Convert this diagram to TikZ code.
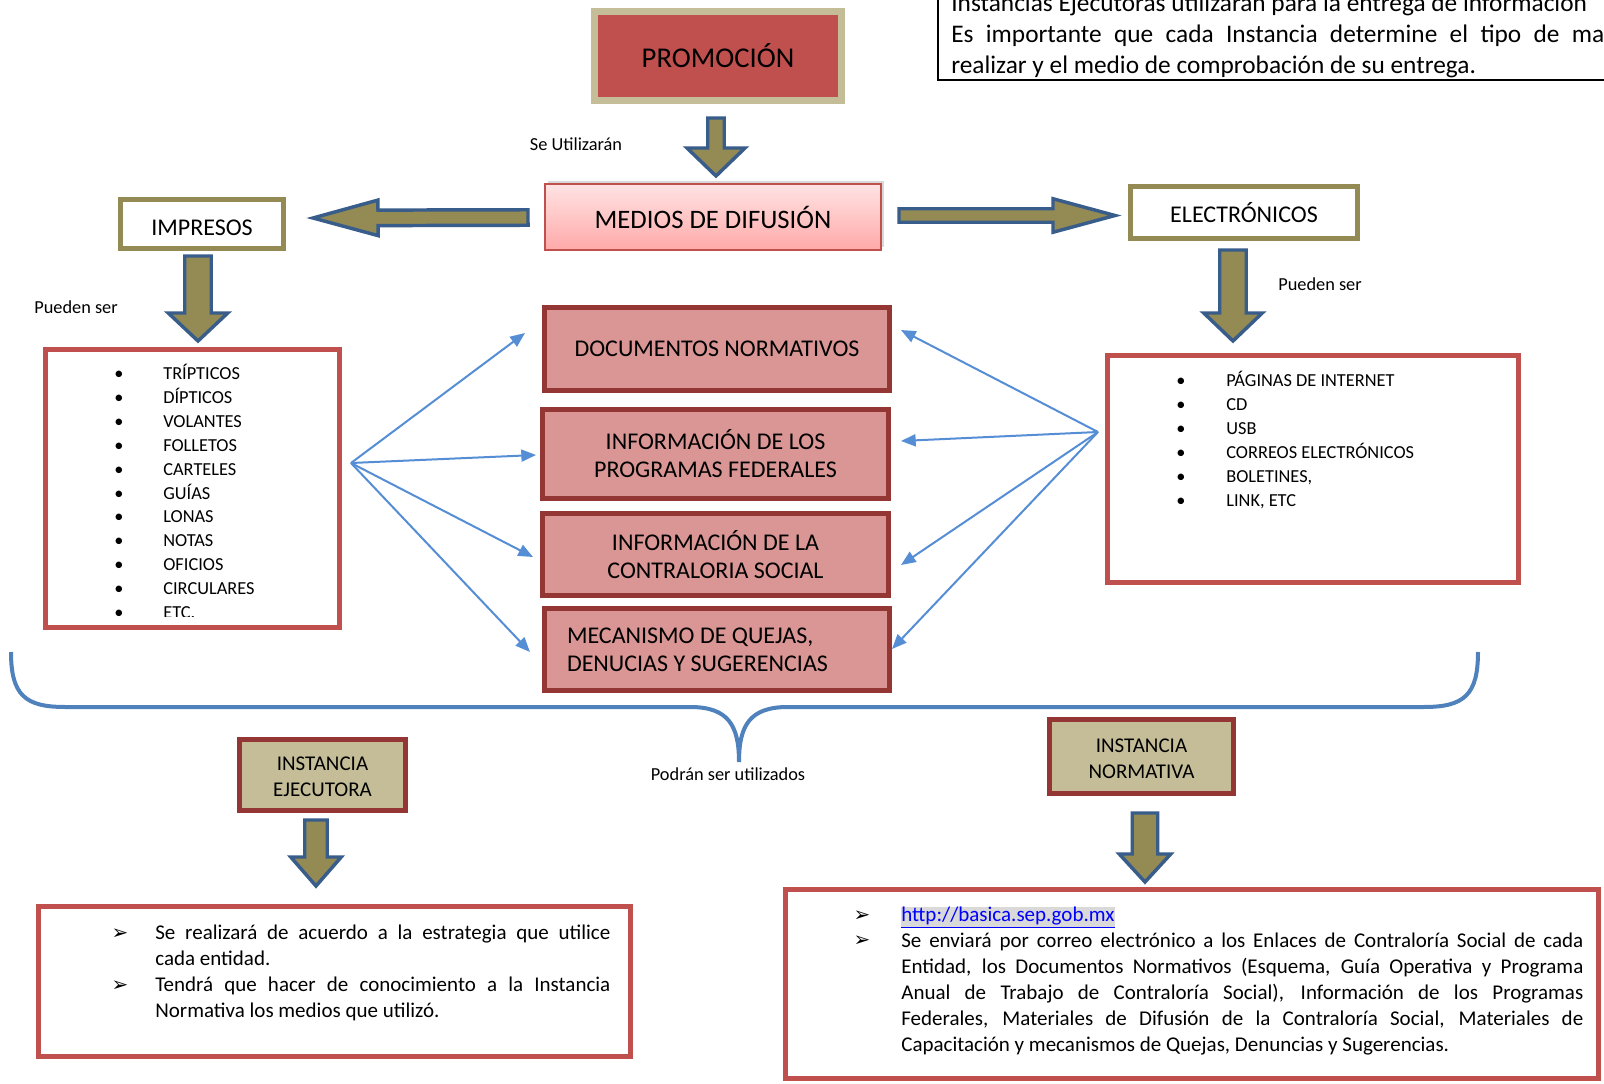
\documentclass[tikz,border=0pt]{standalone}
\usepackage{fontspec}
\setmainfont{Carlito}
\newfontfamily\dingfont{DejaVu Sans}
\usetikzlibrary{arrows.meta,calc,shadows}

\definecolor{tanfill}{HTML}{C4BD97}
\definecolor{brick}{HTML}{C0504D}
\definecolor{darkbrick}{HTML}{943634}
\definecolor{rosefill}{HTML}{D99694}
\definecolor{olive}{HTML}{948A54}
\definecolor{steel}{HTML}{385D8A}
\definecolor{fanblue}{HTML}{558ED5}
\definecolor{braceblue}{HTML}{4F81BD}
\definecolor{pinktop}{HTML}{FFE3E3}
\definecolor{pinkbot}{HTML}{FFA9A9}
\definecolor{linkgray}{HTML}{D9D9D9}

% block arrow: start, tip, half shaft, half head, head length (in px)
\newcommand{\blockarrow}[5]{%
  \pgfmathsetlengthmacro{\arrS}{#3*0.75}%
  \pgfmathsetlengthmacro{\arrH}{#4*0.75}%
  \pgfmathsetlengthmacro{\arrL}{#5*0.75}%
  \coordinate (ba-base) at ($(#2)!\arrL!(#1)$);
  \draw[bigarrow] ($(#1)!\arrS!90:(#2)$) -- ($(ba-base)!\arrS!-90:(#1)$) -- ($(ba-base)!\arrH!-90:(#1)$) -- (#2) -- ($(ba-base)!\arrH!90:(#1)$) -- ($(ba-base)!\arrS!90:(#1)$) -- ($(#1)!\arrS!-90:(#2)$) -- cycle;
}
% justified line of a given width
\newcommand{\jline}[2][341.25pt]{\makebox[#1][s]{#2}}

\tikzset{every picture/.style={line width=0.5pt}}
\tikzset{
  bigarrow/.style={draw=steel, fill=olive, line width=2.6pt, line join=miter},
  fan/.style={draw=fanblue, line width=1.5pt, -{Triangle[length=11pt,width=9pt]}},
  headbox/.style={draw=olive, fill=white, line width=3.75pt, inner sep=0pt, font=\fontsize{18}{21}\selectfont},
  listbox/.style={draw=brick, fill=white, line width=3.75pt, inner sep=0pt},
  topicbox/.style={draw=darkbrick, fill=rosefill, line width=3.75pt, inner sep=0pt, align=center, font=\fontsize{18}{21}\selectfont},
  instbox/.style={draw=darkbrick, fill=tanfill, line width=3.75pt, inner sep=0pt, align=center, font=\fontsize{15.75}{19.5}\selectfont},
  smalltext/.style={font=\fontsize{13.75}{16}\selectfont, inner sep=0pt},
  listtext/.style={font=\fontsize{13.75}{16}\selectfont, inner sep=0pt, anchor=base west},
  dingbullet/.style={inner sep=0pt, font=\dingfont\fontsize{15}{17}\selectfont, anchor=base},
  bodytext/.style={font=\fontsize{15.75}{19.4}\selectfont, inner sep=0pt, anchor=north west, align=flush left},
}

\begin{document}
\begin{tikzpicture}[x=0.75pt,y=0.75pt,yscale=-1,xscale=1]
\clip (0,0) rectangle (1604,1084);
\fill[white] (0,0) rectangle (1604,1084);

%Shape: note box at the top right
\draw[line width=1.5pt] (938,-10) rectangle (1620,80);
\node[font=\fontsize{19}{23}\selectfont, inner sep=0pt, anchor=base west] (note1) at (951,12) {Instancias Ejecutoras utilizarán para la entrega de información};
\node[font=\fontsize{19}{23}\selectfont, inner sep=0pt, anchor=base west] (note2) at (951,43) {\makebox[489.75pt][s]{Es importante que cada Instancia determine el tipo de ma}};
\node[font=\fontsize{19}{23}\selectfont, inner sep=0pt, anchor=base west] (note3) at (951,74) {realizar y el medio de comprobación de su entrega.};

%Shape: PROMOCION
\node[draw=tanfill, fill=brick, line width=5.25pt, minimum width=185.25pt, minimum height=66.75pt, inner sep=0pt,
  drop shadow={shadow xshift=2pt, shadow yshift=2pt, opacity=0.3}, font=\fontsize{21.5}{25}\selectfont] (promo) at (718,56) {PROMOCIÓN};

%Shape: MEDIOS DE DIFUSION
\node[draw=brick, top color=pinktop, bottom color=pinkbot, line width=1.5pt, minimum width=252pt, minimum height=49.5pt, inner sep=0pt,
  drop shadow={shadow xshift=2pt, shadow yshift=2pt, opacity=0.3}, font=\fontsize{20}{24}\selectfont] (medios) at (713,217) {MEDIOS DE DIFUSIÓN};

%Shape: IMPRESOS / ELECTRONICOS
\node[headbox, minimum width=122.25pt, minimum height=36.75pt, text height=17.5pt, text depth=0pt] (impresos) at (202,224) {IMPRESOS};
\node[headbox, minimum width=170.25pt, minimum height=39pt] (electr) at (1244,212.5) {ELECTRÓNICOS};

%Block arrows
\coordinate (pa-s) at (716,118); \coordinate (pa-e) at (716,176);
\blockarrow{pa-s}{pa-e}{8.25}{29}{28}
\coordinate (la-s) at (528,217.5); \coordinate (la-e) at (313,218);
\blockarrow{la-s}{la-e}{7.75}{17.75}{65}
\coordinate (ra-s) at (899,215.5); \coordinate (ra-e) at (1115,215.5);
\blockarrow{ra-s}{ra-e}{6.75}{16.75}{62}
\coordinate (ia-s) at (198,256); \coordinate (ia-e) at (198,341);
\blockarrow{ia-s}{ia-e}{13.25}{29.75}{28}
\coordinate (ea-s) at (1233,250); \coordinate (ea-e) at (1233,341);
\blockarrow{ea-s}{ea-e}{13.25}{29.25}{28}
\coordinate (ja-s) at (316,820); \coordinate (ja-e) at (316,886);
\blockarrow{ja-s}{ja-e}{11.25}{25.25}{29}
\coordinate (na-s) at (1145,813); \coordinate (na-e) at (1145,882);
\blockarrow{na-s}{na-e}{12.75}{25.75}{28}

% Text Node
\node[smalltext] (seutil) at (576,144) {Se Utilizarán};
% Text Node
\node[smalltext] (pueden1) at (76,307) {Pueden ser};
% Text Node
\node[smalltext] (pueden2) at (1320,284) {Pueden ser};

%Shape: list of printed media
\node[listbox, minimum width=220.5pt, minimum height=208.5pt] (implist) at (192.5,488.5) {};
\begin{scope}
\clip (46,350) rectangle (339,616.5);
\foreach \lbl [count=\i from 0] in {TRÍPTICOS,DÍPTICOS,VOLANTES,FOLLETOS,CARTELES,GUÍAS,LONAS,NOTAS,OFICIOS,CIRCULARES,ETC.}{
  \node[listtext, anchor=base] (imp-b\i) at (119,{380+23.8*\i}) {\textbullet};
  \node[listtext] (imp-t\i) at (163,{380+23.8*\i}) {\lbl};
}
\end{scope}

%Shape: list of electronic media
\node[listbox, minimum width=308.25pt, minimum height=170.25pt] (ellist) at (1313,469) {};
\foreach \lbl [count=\i from 0] in {PÁGINAS DE INTERNET,CD,USB,CORREOS ELECTRÓNICOS,{BOLETINES,},{LINK, ETC}}{
  \node[listtext, anchor=base] (el-b\i) at (1181,{387+23.8*\i}) {\textbullet};
  \node[listtext] (el-t\i) at (1226,{387+23.8*\i}) {\lbl};
}

%Shape: topics
\node[topicbox, minimum width=258.75pt, minimum height=62.25pt] (doc) at (717,349) {DOCUMENTOS NORMATIVOS};
\node[topicbox, minimum width=259.5pt, minimum height=66.75pt] (prog) at (715.5,454) {INFORMACIÓN DE LOS\\PROGRAMAS FEDERALES};
\node[topicbox, minimum width=259.5pt, minimum height=61.5pt] (contra) at (715.5,554.5) {INFORMACIÓN DE LA\\CONTRALORIA SOCIAL};
\node[topicbox, align=flush left, text width=225pt, inner xsep=16.875pt, minimum height=61.5pt] (meca) at (717,649.5) {MECANISMO DE QUEJAS,\\DENUCIAS Y SUGERENCIAS};

%Straight Lines: left fan
\coordinate (lfan) at (351,463);
\coordinate (lt-doc) at (525,333);
\coordinate (lt-prog) at (536,455);
\coordinate (lt-contra) at (533,557);
\coordinate (lt-meca) at (530,652);
\draw[fan] (lfan) -- (lt-doc);
\draw[fan] (lfan) -- (lt-prog);
\draw[fan] (lfan) -- (lt-contra);
\draw[fan] (lfan) -- (lt-meca);

%Straight Lines: right fan
\coordinate (rfan) at (1098,432);
\coordinate (rt-doc) at (901,330);
\coordinate (rt-prog) at (901,441);
\coordinate (rt-contra) at (901,565);
\coordinate (rt-meca) at (892,649);
\draw[fan] (rfan) -- (rt-doc);
\draw[fan] (rfan) -- (rt-prog);
\draw[fan] (rfan) -- (rt-contra);
\draw[fan] (rfan) -- (rt-meca);

%Shape: brace
\draw[braceblue, line width=3pt] (11,652) .. controls (11,695) and (25,707) .. (65,707) -- (690,707) .. controls (728,707) and (739,725) .. (739,762) .. controls (739,725) and (750,707) .. (788,707) -- (1424,707) .. controls (1464,707) and (1478,695) .. (1478,652);
% Text Node
\node[smalltext] (podran) at (728,774) {Podrán ser utilizados};

%Shape: instances
\node[instbox, minimum width=124.5pt, minimum height=53.25pt] (ejec) at (322.5,775) {\rule{0pt}{13pt}INSTANCIA\\EJECUTORA};
\node[instbox, minimum width=138pt, minimum height=55.5pt] (norm) at (1141.5,756.5) {\rule{0pt}{13pt}INSTANCIA\\NORMATIVA};

%Shape: what the executing instance does
\node[listbox, minimum width=444pt, minimum height=112.5pt] (ejlist) at (334.5,981.5) {};
\node[dingbullet] (ej-b1) at (120,939.5) {➢};
\node[dingbullet] (ej-b2) at (120,991.5) {➢};
\node[bodytext, text width=341.25pt] (ejtext) at (155,921) {\strut\jline{Se realizará de acuerdo a la estrategia que utilice}\\
cada entidad.\\
\jline{Tendrá que hacer de conocimiento a la Instancia}\\
Normativa los medios que utilizó.};

%Shape: what the normative instance does
\node[listbox, minimum width=609.75pt, minimum height=141.75pt] (nolist) at (1192,984) {};
\node[dingbullet] (no-b1) at (862,921.5) {➢};
\node[dingbullet] (no-b2) at (862,946.5) {➢};
\node[bodytext, text width=511.5pt] (notext) at (901,903.5) {\strut{\fboxsep=0pt\colorbox{linkgray}{\color{blue}\underline{http://basica.sep.gob.mx}}}\\
\jline[511.5pt]{Se enviará por correo electrónico a los Enlaces de Contraloría Social de cada}\\
\jline[511.5pt]{Entidad, los Documentos Normativos (Esquema, Guía Operativa y Programa}\\
\jline[511.5pt]{Anual de Trabajo de Contraloría Social), Información de los Programas}\\
\jline[511.5pt]{Federales, Materiales de Difusión de la Contraloría Social, Materiales de}\\
Capacitación y mecanismos de Quejas, Denuncias y Sugerencias.};

\end{tikzpicture}
\end{document}
